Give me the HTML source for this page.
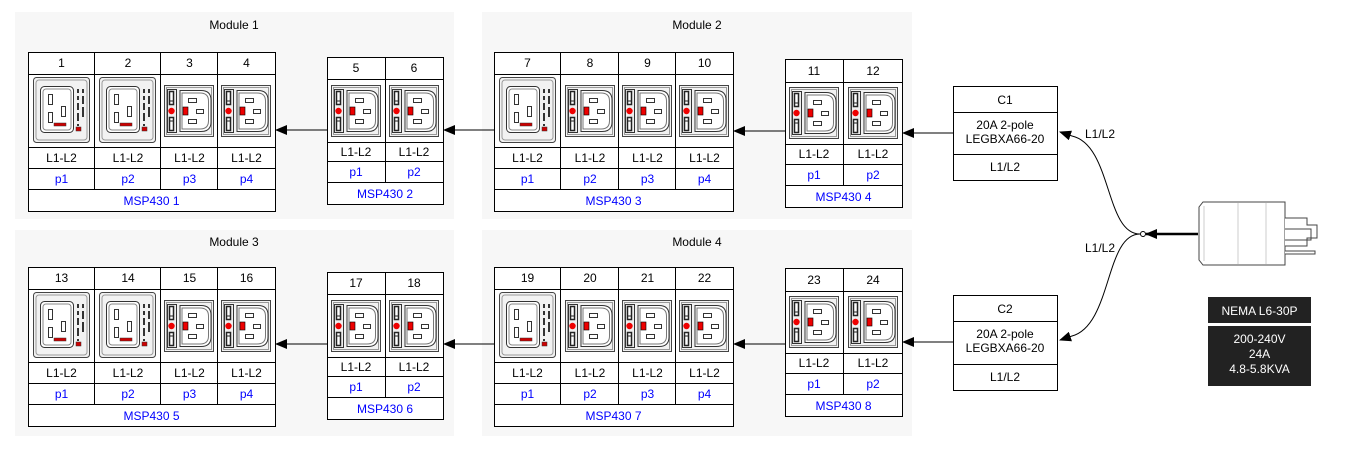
<!DOCTYPE html>
<html><head><meta charset="utf-8"><style>
html,body{margin:0;padding:0;background:#fff;}
svg{display:block;font-family:"Liberation Sans",Arial,sans-serif;font-size:12px;}
.b{fill:#00f;}
</style></head><body>
<svg width="1349" height="451" viewBox="0 0 1349 451" xmlns="http://www.w3.org/2000/svg">
<defs>
<marker id="ar" markerWidth="12" markerHeight="10" refX="11" refY="5" orient="auto" markerUnits="userSpaceOnUse">
<path d="M0,0 L12,5 L0,10 Z" fill="#000"/></marker>
<symbol id="c13" viewBox="0 0 50 52">
<rect x="0.5" y="0.5" width="49" height="51" fill="#f2f2f2" stroke="#444"/>
<rect x="2.5" y="2.5" width="45" height="47" fill="none" stroke="#999"/>
<rect x="3.5" y="4.5" width="9" height="43" fill="#eee" stroke="#333"/>
<rect x="5.5" y="6.5" width="4" height="13" fill="#fff" stroke="#222" stroke-width="1.5"/>
<rect x="5.5" y="32.5" width="4" height="13" fill="#fff" stroke="#222" stroke-width="1.5"/>
<path d="M6,16 h3 M6,36 h3" stroke="#222"/>
<circle cx="7.5" cy="26" r="3.2" fill="#e00"/>
<path d="M16,5.5 H37 Q47,5.5 47,15 V37 Q47,46.5 37,46.5 H16 Z" fill="#fff" stroke="#333"/>
<path d="M18,8 H36 Q44.5,8 44.5,16 V36 Q44.5,44 36,44 H18 Z" fill="none" stroke="#777"/>
<rect x="24.5" y="13.5" width="8" height="4" fill="#fff" stroke="#333"/>
<rect x="32.5" y="24.5" width="7" height="4" fill="#fff" stroke="#333"/>
<rect x="24.5" y="34.5" width="8" height="4" fill="#fff" stroke="#333"/>
<rect x="19" y="22" width="5" height="8" fill="#e00" stroke="#000" stroke-width="0.6"/>
</symbol>
<symbol id="c19" viewBox="0 0 57 66">
<rect x="0.5" y="0.5" width="56" height="65" rx="3" fill="#f2f2f2" stroke="#444"/>
<rect x="3" y="3" width="51" height="60" rx="3" fill="none" stroke="#999"/>
<rect x="7.5" y="9.5" width="33" height="46" rx="4" fill="#fff" stroke="#333"/>
<rect x="10" y="12" width="28" height="41" rx="3" fill="none" stroke="#888"/>
<rect x="15.5" y="17.5" width="4" height="10" fill="#fff" stroke="#333"/>
<rect x="15.5" y="35.5" width="4" height="10" fill="#fff" stroke="#333"/>
<rect x="28.5" y="29.5" width="4" height="10" fill="#fff" stroke="#333"/>
<rect x="21" y="46" width="12" height="3" fill="#c00" stroke="#333" stroke-width="0.5"/>
<g fill="#333"><rect x="44" y="12" width="2" height="4"/><rect x="49" y="12" width="2" height="4"/><rect x="44" y="19" width="2" height="4"/><rect x="49" y="19" width="2" height="8"/><rect x="44" y="26" width="2" height="7"/><rect x="49" y="30" width="2" height="10"/><rect x="44" y="36" width="2" height="8"/><rect x="44" y="47" width="2" height="2"/></g>
<rect x="43" y="50" width="5" height="4" fill="#c00" stroke="#333" stroke-width="0.5"/>
</symbol>
</defs>

<rect x="15" y="12" width="439" height="207" fill="#f7f7f7"/>
<rect x="482" y="12" width="430" height="207" fill="#f7f7f7"/>
<rect x="15" y="230" width="439" height="206" fill="#f7f7f7"/>
<rect x="482" y="230" width="430" height="206" fill="#f7f7f7"/>
<text x="234" y="29" text-anchor="middle">Module 1</text>
<text x="697" y="29" text-anchor="middle">Module 2</text>
<text x="234" y="246" text-anchor="middle">Module 3</text>
<text x="697" y="246" text-anchor="middle">Module 4</text>

<g transform="translate(28,52)">
<rect x="0.5" y="0.5" width="247" height="159" fill="#fff" stroke="#000"/>
<path d="M0,22.5H247M0,95.5H247M0,116.5H247M0,137.5H247M66.5,0V137M132.5,0V137M189.5,0V137" stroke="#000"/>
<text x="33.5" y="15" text-anchor="middle">1</text><text x="100" y="15" text-anchor="middle">2</text><text x="161.5" y="15" text-anchor="middle">3</text><text x="218.5" y="15" text-anchor="middle">4</text>
<use href="#c19" x="5" y="25" width="57" height="66"/><use href="#c19" x="71" y="25" width="57" height="66"/><use href="#c13" x="136" y="33" width="50" height="52"/><use href="#c13" x="193" y="33" width="50" height="52"/>
<text x="33.5" y="110" text-anchor="middle">L1-L2</text><text x="100" y="110" text-anchor="middle">L1-L2</text><text x="161.5" y="110" text-anchor="middle">L1-L2</text><text x="218.5" y="110" text-anchor="middle">L1-L2</text>
<text class="b" x="33.5" y="131" text-anchor="middle">p1</text><text class="b" x="100" y="131" text-anchor="middle">p2</text><text class="b" x="161.5" y="131" text-anchor="middle">p3</text><text class="b" x="218.5" y="131" text-anchor="middle">p4</text>
<text class="b" x="123.5" y="153" text-anchor="middle">MSP430 1</text>
</g>
<g transform="translate(327,57)">
<rect x="0.5" y="0.5" width="116" height="147" fill="#fff" stroke="#000"/>
<path d="M0,22.5H116M0,85.5H116M0,104.5H116M0,125.5H116M58.5,0V125" stroke="#000"/>
<text x="29" y="15" text-anchor="middle">5</text><text x="87" y="15" text-anchor="middle">6</text>
<use href="#c13" x="4" y="28" width="50" height="52"/><use href="#c13" x="62" y="28" width="50" height="52"/>
<text x="29" y="99" text-anchor="middle">L1-L2</text><text x="87" y="99" text-anchor="middle">L1-L2</text>
<text class="b" x="29" y="119" text-anchor="middle">p1</text><text class="b" x="87" y="119" text-anchor="middle">p2</text>
<text class="b" x="58" y="141" text-anchor="middle">MSP430 2</text>
</g>
<g transform="translate(494,52)">
<rect x="0.5" y="0.5" width="239" height="159" fill="#fff" stroke="#000"/>
<path d="M0,22.5H239M0,95.5H239M0,116.5H239M0,137.5H239M66.5,0V137M124.5,0V137M181.5,0V137" stroke="#000"/>
<text x="33.5" y="15" text-anchor="middle">7</text><text x="96" y="15" text-anchor="middle">8</text><text x="153.5" y="15" text-anchor="middle">9</text><text x="210.5" y="15" text-anchor="middle">10</text>
<use href="#c19" x="5" y="25" width="57" height="66"/><use href="#c13" x="71" y="33" width="50" height="52"/><use href="#c13" x="128" y="33" width="50" height="52"/><use href="#c13" x="185" y="33" width="50" height="52"/>
<text x="33.5" y="110" text-anchor="middle">L1-L2</text><text x="96" y="110" text-anchor="middle">L1-L2</text><text x="153.5" y="110" text-anchor="middle">L1-L2</text><text x="210.5" y="110" text-anchor="middle">L1-L2</text>
<text class="b" x="33.5" y="131" text-anchor="middle">p1</text><text class="b" x="96" y="131" text-anchor="middle">p2</text><text class="b" x="153.5" y="131" text-anchor="middle">p3</text><text class="b" x="210.5" y="131" text-anchor="middle">p4</text>
<text class="b" x="119.5" y="153" text-anchor="middle">MSP430 3</text>
</g>
<g transform="translate(785,59)">
<rect x="0.5" y="0.5" width="117" height="148" fill="#fff" stroke="#000"/>
<path d="M0,23.5H117M0,85.5H117M0,105.5H117M0,126.5H117M58.5,0V126" stroke="#000"/>
<text x="29" y="16" text-anchor="middle">11</text><text x="88" y="16" text-anchor="middle">12</text>
<use href="#c13" x="4" y="28" width="50" height="52"/><use href="#c13" x="63" y="28" width="50" height="52"/>
<text x="29" y="99" text-anchor="middle">L1-L2</text><text x="88" y="99" text-anchor="middle">L1-L2</text>
<text class="b" x="29" y="120" text-anchor="middle">p1</text><text class="b" x="88" y="120" text-anchor="middle">p2</text>
<text class="b" x="58.5" y="142" text-anchor="middle">MSP430 4</text>
</g>

<g transform="translate(28,267)">
<rect x="0.5" y="0.5" width="247" height="159" fill="#fff" stroke="#000"/>
<path d="M0,22.5H247M0,95.5H247M0,116.5H247M0,137.5H247M66.5,0V137M132.5,0V137M189.5,0V137" stroke="#000"/>
<text x="33.5" y="15" text-anchor="middle">13</text><text x="100" y="15" text-anchor="middle">14</text><text x="161.5" y="15" text-anchor="middle">15</text><text x="218.5" y="15" text-anchor="middle">16</text>
<use href="#c19" x="5" y="25" width="57" height="66"/><use href="#c19" x="71" y="25" width="57" height="66"/><use href="#c13" x="136" y="33" width="50" height="52"/><use href="#c13" x="193" y="33" width="50" height="52"/>
<text x="33.5" y="110" text-anchor="middle">L1-L2</text><text x="100" y="110" text-anchor="middle">L1-L2</text><text x="161.5" y="110" text-anchor="middle">L1-L2</text><text x="218.5" y="110" text-anchor="middle">L1-L2</text>
<text class="b" x="33.5" y="131" text-anchor="middle">p1</text><text class="b" x="100" y="131" text-anchor="middle">p2</text><text class="b" x="161.5" y="131" text-anchor="middle">p3</text><text class="b" x="218.5" y="131" text-anchor="middle">p4</text>
<text class="b" x="123.5" y="153" text-anchor="middle">MSP430 5</text>
</g>
<g transform="translate(327,272)">
<rect x="0.5" y="0.5" width="116" height="147" fill="#fff" stroke="#000"/>
<path d="M0,22.5H116M0,85.5H116M0,104.5H116M0,125.5H116M58.5,0V125" stroke="#000"/>
<text x="29" y="15" text-anchor="middle">17</text><text x="87" y="15" text-anchor="middle">18</text>
<use href="#c13" x="4" y="28" width="50" height="52"/><use href="#c13" x="62" y="28" width="50" height="52"/>
<text x="29" y="99" text-anchor="middle">L1-L2</text><text x="87" y="99" text-anchor="middle">L1-L2</text>
<text class="b" x="29" y="119" text-anchor="middle">p1</text><text class="b" x="87" y="119" text-anchor="middle">p2</text>
<text class="b" x="58" y="141" text-anchor="middle">MSP430 6</text>
</g>
<g transform="translate(494,267)">
<rect x="0.5" y="0.5" width="239" height="159" fill="#fff" stroke="#000"/>
<path d="M0,22.5H239M0,95.5H239M0,116.5H239M0,137.5H239M66.5,0V137M124.5,0V137M181.5,0V137" stroke="#000"/>
<text x="33.5" y="15" text-anchor="middle">19</text><text x="96" y="15" text-anchor="middle">20</text><text x="153.5" y="15" text-anchor="middle">21</text><text x="210.5" y="15" text-anchor="middle">22</text>
<use href="#c19" x="5" y="25" width="57" height="66"/><use href="#c13" x="71" y="33" width="50" height="52"/><use href="#c13" x="128" y="33" width="50" height="52"/><use href="#c13" x="185" y="33" width="50" height="52"/>
<text x="33.5" y="110" text-anchor="middle">L1-L2</text><text x="96" y="110" text-anchor="middle">L1-L2</text><text x="153.5" y="110" text-anchor="middle">L1-L2</text><text x="210.5" y="110" text-anchor="middle">L1-L2</text>
<text class="b" x="33.5" y="131" text-anchor="middle">p1</text><text class="b" x="96" y="131" text-anchor="middle">p2</text><text class="b" x="153.5" y="131" text-anchor="middle">p3</text><text class="b" x="210.5" y="131" text-anchor="middle">p4</text>
<text class="b" x="119.5" y="153" text-anchor="middle">MSP430 7</text>
</g>
<g transform="translate(785,268)">
<rect x="0.5" y="0.5" width="117" height="148" fill="#fff" stroke="#000"/>
<path d="M0,23.5H117M0,85.5H117M0,105.5H117M0,126.5H117M58.5,0V126" stroke="#000"/>
<text x="29" y="16" text-anchor="middle">23</text><text x="88" y="16" text-anchor="middle">24</text>
<use href="#c13" x="4" y="28" width="50" height="52"/><use href="#c13" x="63" y="28" width="50" height="52"/>
<text x="29" y="99" text-anchor="middle">L1-L2</text><text x="88" y="99" text-anchor="middle">L1-L2</text>
<text class="b" x="29" y="120" text-anchor="middle">p1</text><text class="b" x="88" y="120" text-anchor="middle">p2</text>
<text class="b" x="58.5" y="142" text-anchor="middle">MSP430 8</text>
</g>

<g stroke="#000" fill="none">
<path d="M327,130H276" marker-end="url(#ar)"/>
<path d="M494,130H444" marker-end="url(#ar)"/>
<path d="M785,131H734" marker-end="url(#ar)"/>
<path d="M953,133H903" marker-end="url(#ar)"/>
<path d="M327,344H276" marker-end="url(#ar)"/>
<path d="M494,344H444" marker-end="url(#ar)"/>
<path d="M785,344H734" marker-end="url(#ar)"/>
<path d="M953,342H903" marker-end="url(#ar)"/>
<path d="M1198,234H1146" stroke-width="2.5" marker-end="url(#ar)"/>
<path d="M1140,234 C1105,234 1112,145 1072,136 L1060,132" marker-end="url(#ar)"/>
<path d="M1140,234 C1105,234 1112,325 1072,336 L1060,340" marker-end="url(#ar)"/>
</g>
<circle cx="1143" cy="234" r="2.5" fill="#fff" stroke="#000"/>
<text x="1100" y="138" text-anchor="middle">L1/L2</text>
<text x="1100" y="252" text-anchor="middle">L1/L2</text>

<g transform="translate(953,86)">
<rect x="0.5" y="0.5" width="104" height="94" fill="#fff" stroke="#000"/>
<path d="M0,26.5H104M0,68.5H104" stroke="#000"/>
<text x="52" y="18" text-anchor="middle">C1</text>
<text x="52" y="43" text-anchor="middle">20A 2-pole</text>
<text x="52" y="57" text-anchor="middle">LEGBXA66-20</text>
<text x="52" y="85" text-anchor="middle">L1/L2</text>
</g>
<g transform="translate(953,295)">
<rect x="0.5" y="0.5" width="104" height="95" fill="#fff" stroke="#000"/>
<path d="M0,26.5H104M0,69.5H104" stroke="#000"/>
<text x="52" y="18" text-anchor="middle">C2</text>
<text x="52" y="43" text-anchor="middle">20A 2-pole</text>
<text x="52" y="57" text-anchor="middle">LEGBXA66-20</text>
<text x="52" y="86" text-anchor="middle">L1/L2</text>
</g>

<g stroke="#444">
<path d="M1203,202 H1285 V265 H1203 L1199,260 V207 Z" fill="#fff"/>
<path d="M1204,206 V261 M1238,203 V264 M1266,203 V264" fill="none" stroke="#ccc"/>
<path d="M1285,218 H1307 V225 H1317 V238 H1307 V246 H1285" fill="#fff"/>
<path d="M1285,229 H1311 V240 H1285" fill="none"/>
<path d="M1285,251 H1315 V254 H1285" fill="#fff"/>
</g>

<rect x="1208" y="297" width="103" height="26" fill="#222"/>
<rect x="1208" y="326" width="103" height="60" fill="#222"/>
<text x="1259.5" y="315" text-anchor="middle" fill="#fff">NEMA L6-30P</text>
<text x="1259.5" y="343" text-anchor="middle" fill="#fff">200-240V</text>
<text x="1259.5" y="358" text-anchor="middle" fill="#fff">24A</text>
<text x="1259.5" y="373" text-anchor="middle" fill="#fff">4.8-5.8KVA</text>
</svg>
</body></html>
